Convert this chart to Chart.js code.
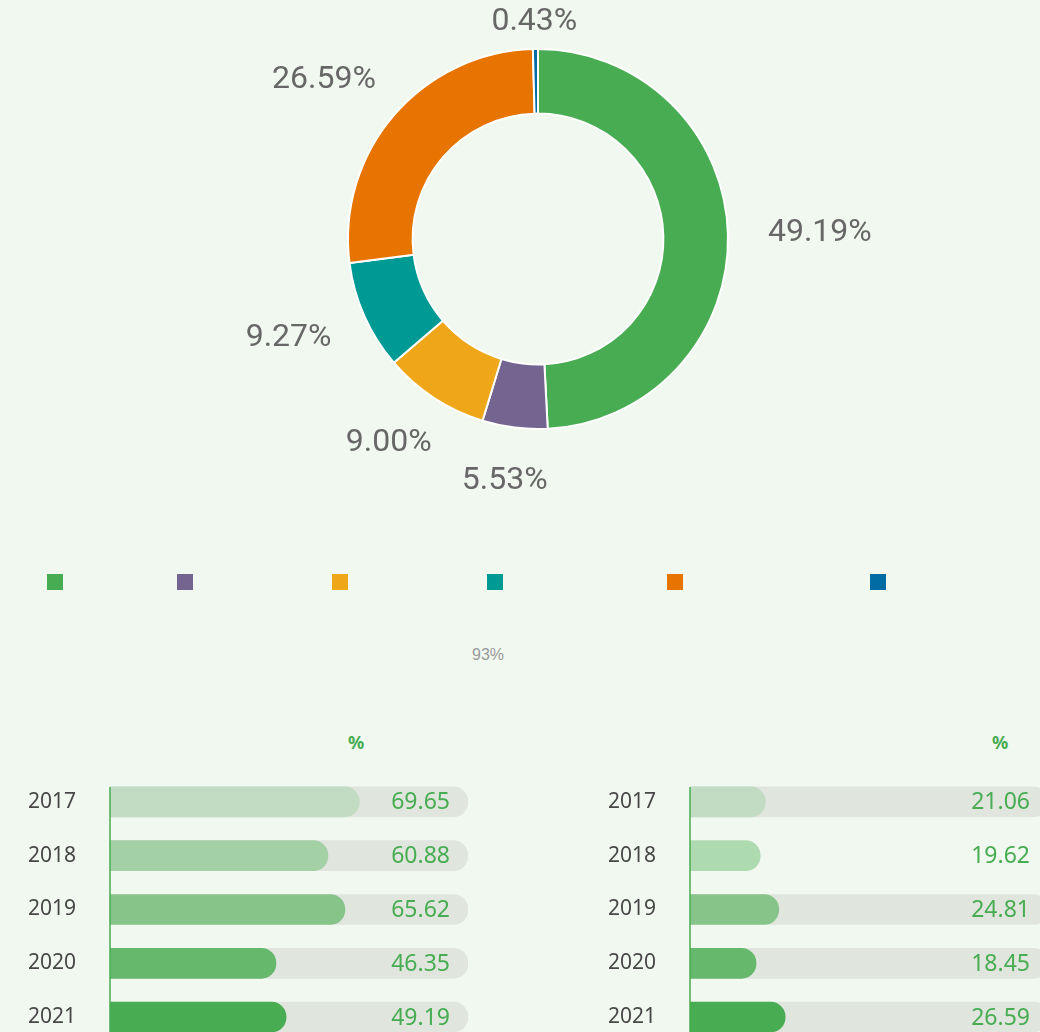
<!DOCTYPE html>
<html>
<head>
<meta charset="utf-8">
<script src="https://cdn.jsdelivr.net/npm/chart.js@4.4.1/dist/chart.umd.min.js"></script>
<style>
  html, body { margin: 0; padding: 0; width: 1040px; height: 1032px; overflow: hidden; background: #f1f8f0; }
  body { position: relative; font-family: "Noto Sans", sans-serif; }
  .box { position: absolute; }
  #legend { position: absolute; top: 574px; left: 47px; height: 16px; }
  #legend span { position: absolute; top: 0; width: 16px; height: 16px; }
  #note { position: absolute; left: 472px; top: 646px; font: 16px "Liberation Sans Narrow", "Liberation Sans", sans-serif; color: #9a9a9a; }
  .unit { position: absolute; top: 730px; font: bold 18px "Noto Sans", sans-serif; color: #48ad52; }
</style>
</head>
<body>
<div class="box" style="left:0;top:0;width:1040px;height:530px;"><canvas id="doughnutChart"></canvas></div>
<div id="legend"></div>
<div id="note">93%</div>
<div class="unit" style="left:348px;">%</div>
<div class="unit" style="left:992px;">%</div>
<div class="box" style="left:0;top:775px;width:520px;height:269px;"><canvas id="barLeft"></canvas></div>
<div class="box" style="left:520px;top:775px;width:540px;height:269px;"><canvas id="barRight"></canvas></div>
<script>
// share of the doughnut, clockwise from the top
const shareValues = [49.19, 5.53, 9.00, 9.27, 26.59, 0.43];
const shareColors = ['#48ad52', '#73658f', '#efa719', '#009a95', '#e87400', '#006ca3'];

const years = ['2017', '2018', '2019', '2020', '2021'];
const leftValues = [69.65, 60.88, 65.62, 46.35, 49.19];
const rightValues = [21.06, 19.62, 24.81, 18.45, 26.59];
const leftTrack = [100, 100, 100, 100, 100];
const rightTrack = [100, null, 100, 100, 100];
const leftColors = ['#c2dbc3', '#a3d0a5', '#86c48a', '#66b86d', '#48ad52'];
const rightColors = ['#c2dbc3', '#aedab0', '#86c48a', '#66b86d', '#48ad52'];

// legend squares (labels are empty in the source picture)
const legendOffsets = [0, 130, 285, 440, 620, 823];
const legendEl = document.getElementById('legend');
shareColors.forEach((c, i) => {
    const s = document.createElement('span');
    s.style.left = legendOffsets[i] + 'px';
    s.style.background = c;
    legendEl.appendChild(s);
});

const outsideLabels = {
    id: 'outsideLabels',
    afterDatasetsDraw(chart) {
        const ctx = chart.ctx;
        const meta = chart.getDatasetMeta(0);
        ctx.save();
        ctx.font = '32px Roboto, "Noto Sans", sans-serif';
        ctx.fillStyle = '#676767';
        ctx.textAlign = 'center';
        ctx.textBaseline = 'middle';
        meta.data.forEach((arc, i) => {
            const p = arc.getProps(['x', 'y', 'startAngle', 'endAngle', 'outerRadius'], true);
            const mid = (p.startAngle + p.endAngle) / 2;
            const dx = Math.cos(mid), dy = Math.sin(mid);
            const text = shareValues[i].toFixed(2) + '%';
            const w = ctx.measureText(text).width;
            const r = p.outerRadius + 40;
            const x = p.x + dx * r + dx * w / 2;
            let y = p.y + dy * r + dy * 14;
            y = Math.max(y, 22);
            ctx.fillText(text, x, y);
        });
        ctx.restore();
    }
};

new Chart(document.getElementById('doughnutChart').getContext('2d'), {
    type: 'doughnut',
    data: {
        labels: shareValues.map(v => v.toFixed(2) + '%'),
        datasets: [{
            data: shareValues,
            backgroundColor: shareColors,
            borderColor: '#ffffff',
            borderWidth: 2
        }]
    },
    options: {
        responsive: true,
        maintainAspectRatio: false,
        animation: false,
        cutout: '66%',
        layout: { padding: { top: 48, bottom: 100, left: 36 } },
        plugins: { legend: { display: false }, tooltip: { enabled: false } }
    },
    plugins: [outsideLabels]
});

const valueLabels = {
    id: 'valueLabels',
    afterDatasetsDraw(chart) {
        const ctx = chart.ctx;
        const xs = chart.scales.x, ys = chart.scales.y;
        const vals = chart.data.datasets[0].data;
        ctx.save();
        // axis line from first bar top down
        ctx.strokeStyle = '#48ad52';
        ctx.lineWidth = 1.5;
        ctx.beginPath();
        ctx.moveTo(chart.chartArea.left, ys.getPixelForValue(0) - 15);
        ctx.lineTo(chart.chartArea.left, chart.chartArea.bottom);
        ctx.stroke();
        ctx.font = '23px "Noto Sans", sans-serif';
        ctx.fillStyle = '#48ad52';
        ctx.textAlign = 'right';
        ctx.textBaseline = 'middle';
        vals.forEach((v, i) => {
            ctx.fillText(v.toFixed(2), xs.getPixelForValue(100) - 18, ys.getPixelForValue(i) + 1);
        });
        ctx.restore();
    }
};

function makeBars(id, values, track, colors, padLeft, padRight) {
    new Chart(document.getElementById(id).getContext('2d'), {
        type: 'bar',
        data: {
            labels: years,
            datasets: [{
                data: values,
                backgroundColor: colors,
                borderRadius: 15,
                borderSkipped: 'start',
                order: 1
            }, {
                data: track,
                backgroundColor: '#e0e5de',
                borderRadius: 15,
                borderSkipped: 'start',
                order: 2
            }]
        },
        options: {
            indexAxis: 'y',
            responsive: true,
            maintainAspectRatio: false,
            animation: false,
            layout: { padding: { left: padLeft, right: padRight, top: 0, bottom: 0 } },
            datasets: { bar: { grouped: false, barThickness: 30 } },
            scales: {
                x: { display: false, min: 0, max: 100 },
                y: {
                    grid: { display: false },
                    border: { display: false },
                    afterFit(scale) {
                        scale.width = 82;
                        scale.paddingTop = 0;
                        scale.paddingBottom = 0;
                    },
                    ticks: {
                        crossAlign: 'far',
                        color: '#474747',
                        font: { family: '"Noto Sans", sans-serif', size: 21 }
                    }
                }
            },
            plugins: { legend: { display: false }, tooltip: { enabled: false } }
        },
        plugins: [valueLabels]
    });
}

makeBars('barLeft', leftValues, leftTrack, leftColors, 28, 52);
makeBars('barRight', rightValues, rightTrack, rightColors, 88, 12);
</script>
</body>
</html>
